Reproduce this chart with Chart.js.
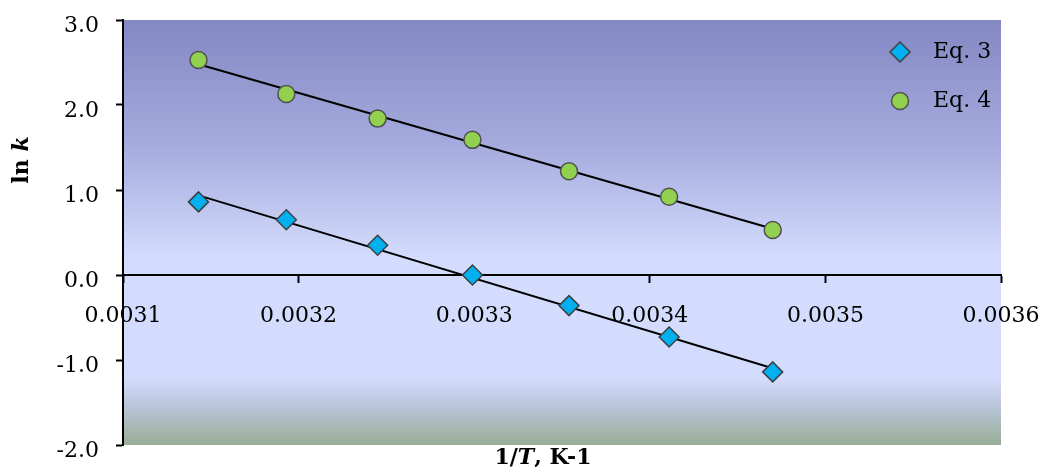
<!DOCTYPE html>
<html>
<head>
<meta charset="utf-8">
<script src="https://cdn.jsdelivr.net/npm/chart.js@4"></script>
<style>
  html, body { margin: 0; padding: 0; background: #fff; }
  #wrap { width: 1044px; height: 472px; }
</style>
</head>
<body>
<div id="wrap"><canvas id="arrhenius" width="1044" height="472"></canvas></div>
<script>
// Data
const invT = [0.003143, 0.003193, 0.003245, 0.003299, 0.003354, 0.003411, 0.003470];
const lnK3 = [0.86, 0.65, 0.35, 0.00, -0.36, -0.73, -1.14];
const lnK4 = [2.53, 2.13, 1.84, 1.59, 1.22, 0.92, 0.53];
const seriesNames = ['Eq. 3', 'Eq. 4'];
const xTicks = [0.0031, 0.0032, 0.0033, 0.0034, 0.0035, 0.0036];
const yTicks = [-2, -1, 0, 1, 2, 3];

const FONT = '"DejaVu Serif", "Liberation Serif", serif';

// least squares trend line, endpoints at first/last x
function trend(xs, ys) {
    const n = xs.length;
    const mx = xs.reduce((a, b) => a + b, 0) / n;
    const my = ys.reduce((a, b) => a + b, 0) / n;
    let sxy = 0, sxx = 0;
    for (let i = 0; i < n; i++) {
        sxy += (xs[i] - mx) * (ys[i] - my);
        sxx += (xs[i] - mx) * (xs[i] - mx);
    }
    const b = sxy / sxx;
    const a = my - b * mx;
    const x0 = Math.min(...xs), x1 = Math.max(...xs);
    return [{ x: x0, y: a + b * x0 }, { x: x1, y: a + b * x1 }];
}

const pts = (xs, ys) => xs.map((x, i) => ({ x: x, y: ys[i] }));

// plot area background gradient
const bgPlugin = {
    id: 'plotBg',
    beforeDraw(chart) {
        const { ctx, chartArea: a } = chart;
        ctx.save();
        ctx.fillStyle = '#fff';
        ctx.fillRect(0, 0, chart.width, chart.height);
        const g = ctx.createLinearGradient(0, a.top, 0, a.bottom);
        g.addColorStop(0, '#8387c3');
        g.addColorStop(0.3, '#a6acde');
        g.addColorStop(0.56, '#d3dcfd');
        g.addColorStop(0.845, '#d3dcfd');
        g.addColorStop(0.9, '#bcc7de');
        g.addColorStop(1, '#99ad97');
        ctx.fillStyle = g;
        ctx.fillRect(a.left, a.top, a.right - a.left, a.bottom - a.top);
        ctx.restore();
    }
};

// draw a run of text parts with mixed styles, centred on (0,0)
function drawParts(ctx, parts, size) {
    let total = 0;
    parts.forEach(p => {
        ctx.font = `${p.italic ? 'italic ' : ''}bold ${size}px ${FONT}`;
        p.w = ctx.measureText(p.text).width;
        total += p.w;
    });
    let x = -total / 2;
    parts.forEach(p => {
        ctx.font = `${p.italic ? 'italic ' : ''}bold ${size}px ${FONT}`;
        ctx.fillText(p.text, x, 0);
        x += p.w;
    });
}

// axis titles and legend inside the plot
const decorPlugin = {
    id: 'decor',
    afterDraw(chart) {
        const ctx = chart.ctx;
        ctx.save();
        ctx.fillStyle = '#000';
        ctx.textBaseline = 'middle';
        ctx.textAlign = 'left';

        ctx.save();
        ctx.translate(22, 160);
        ctx.rotate(-Math.PI / 2);
        drawParts(ctx, [{ text: 'ln ' }, { text: 'k', italic: true }], 22);
        ctx.restore();

        ctx.save();
        ctx.translate(543, 458);
        drawParts(ctx, [{ text: '1/' }, { text: 'T', italic: true }, { text: ', K-1' }], 22);
        ctx.restore();

        // legend
        const items = [0, 1].map(i => chart.data.datasets[i]);
        items.forEach((ds, i) => {
            const cx = 900, cy = 52 + i * 49;
            ctx.fillStyle = ds.pointBackgroundColor;
            ctx.strokeStyle = ds.pointBorderColor;
            ctx.lineWidth = ds.pointBorderWidth;
            ctx.beginPath();
            if (ds.pointStyle === 'rectRot') {
                const r = ds.pointRadius;
                ctx.moveTo(cx - r, cy);
                ctx.lineTo(cx, cy - r);
                ctx.lineTo(cx + r, cy);
                ctx.lineTo(cx, cy + r);
                ctx.closePath();
            } else {
                ctx.arc(cx, cy, ds.pointRadius, 0, Math.PI * 2);
            }
            ctx.fill();
            ctx.stroke();
            ctx.fillStyle = '#000';
            ctx.font = `22px ${FONT}`;
            ctx.fillText(ds.label, 933, cy);
        });
        ctx.restore();
    }
};

new Chart(document.getElementById('arrhenius'), {
    type: 'scatter',
    data: {
        datasets: [
            {
                label: seriesNames[0],
                data: pts(invT, lnK3),
                pointStyle: 'rectRot',
                pointRadius: 10,
                pointBackgroundColor: '#00b0f0',
                pointBorderColor: '#404040',
                pointBorderWidth: 1.5,
                showLine: false
            },
            {
                label: seriesNames[1],
                data: pts(invT, lnK4),
                pointStyle: 'circle',
                pointRadius: 8.5,
                pointBackgroundColor: '#92d050',
                pointBorderColor: '#505050',
                pointBorderWidth: 1.5,
                showLine: false
            },
            {
                label: 'trend 3',
                data: trend(invT, lnK3),
                showLine: true,
                borderColor: '#000',
                borderWidth: 2,
                pointRadius: 0
            },
            {
                label: 'trend 4',
                data: trend(invT, lnK4),
                showLine: true,
                borderColor: '#000',
                borderWidth: 2,
                pointRadius: 0
            }
        ]
    },
    options: {
        responsive: false,
        animation: false,
        devicePixelRatio: 1,
        layout: { padding: { left: 0, top: 20, right: 43, bottom: 27 } },
        plugins: {
            legend: { display: false },
            tooltip: { enabled: false }
        },
        scales: {
            x: {
                type: 'linear',
                position: { y: 0 },
                min: xTicks[0],
                max: xTicks[xTicks.length - 1],
                afterFit: s => {
                    s.height = 0;
                    s.paddingLeft = 0; s.paddingRight = 0;
                    s.paddingTop = 0; s.paddingBottom = 0;
                },
                afterBuildTicks: s => { s.ticks = xTicks.map(v => ({ value: v })); },
                border: { color: '#000', width: 2 },
                grid: { drawOnChartArea: false, tickLength: 7, tickColor: '#000', tickWidth: 2 },
                ticks: {
                    color: '#000',
                    font: { family: FONT, size: 22 },
                    padding: 21,
                    maxRotation: 0,
                    autoSkip: false,
                    callback: v => v.toFixed(4)
                }
            },
            y: {
                min: yTicks[0],
                max: yTicks[yTicks.length - 1],
                afterFit: s => {
                    s.width = 123;
                    s.paddingLeft = 0; s.paddingRight = 0;
                    s.paddingTop = 0; s.paddingBottom = 0;
                },
                afterBuildTicks: s => { s.ticks = yTicks.map(v => ({ value: v })); },
                border: { color: '#000', width: 2 },
                grid: { drawOnChartArea: false, tickLength: 7, tickColor: '#000', tickWidth: 2 },
                ticks: {
                    color: '#000',
                    font: { family: FONT, size: 22 },
                    padding: 17,
                    labelOffset: 6,
                    callback: v => v.toFixed(1)
                }
            }
        }
    },
    plugins: [bgPlugin, decorPlugin]
});
</script>
</body>
</html>
